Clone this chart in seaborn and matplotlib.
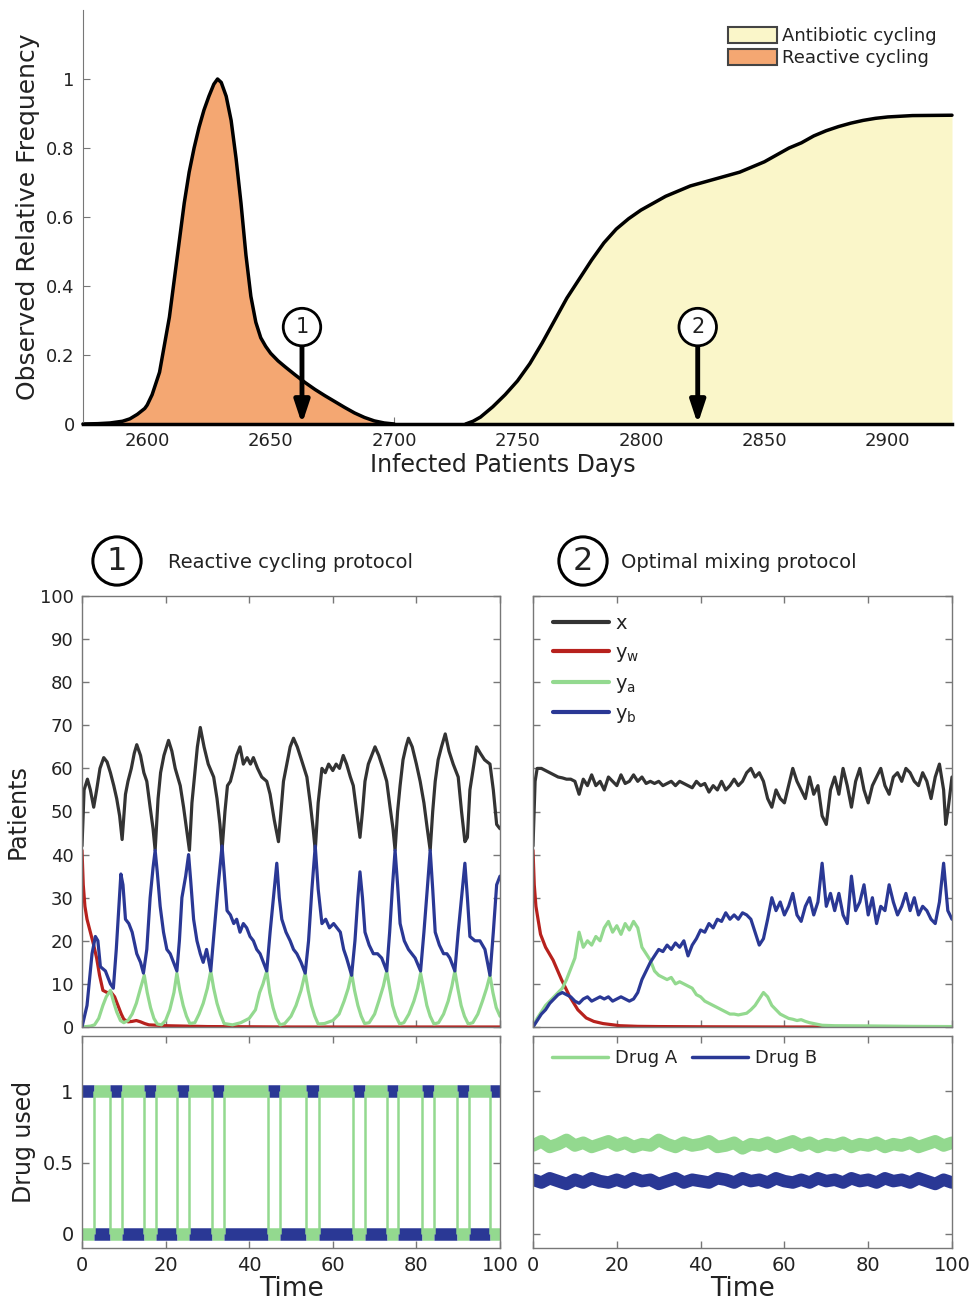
import numpy as np
import pandas as pd
import seaborn as sns
import matplotlib.pyplot as plt
from matplotlib.lines import Line2D
from matplotlib.patches import Patch

# colours
C_X = "#333333"
C_W = "#b7211d"
C_A = "#93d98f"
C_B = "#2a3895"
C_REACT = "#f4a772"
C_ANTI = "#faf6c9"
C_SPINE = "#777777"

# top panel: observed relative frequency (day, value)
reactive_curve = [
    (2574, 0), (2580, 0.001), (2585, 0.003), (2590, 0.008), (2593, 0.015),
    (2596, 0.028), (2599, 0.045), (2600, 0.055), (2602, 0.085), (2605, 0.15),
    (2607, 0.23), (2609, 0.31), (2611, 0.42), (2613, 0.53), (2615, 0.64),
    (2617, 0.73), (2619, 0.8), (2621, 0.86), (2623, 0.91), (2625, 0.95),
    (2627, 0.985), (2628.5, 1.0), (2630, 0.99), (2632, 0.95), (2634, 0.88),
    (2636, 0.77), (2638, 0.64), (2640, 0.49), (2642, 0.37), (2644, 0.295),
    (2646, 0.25), (2648, 0.225), (2650, 0.205), (2653, 0.183), (2656, 0.165),
    (2660, 0.142), (2664, 0.12), (2668, 0.1), (2672, 0.082), (2676, 0.065),
    (2680, 0.048), (2684, 0.032), (2688, 0.019), (2692, 0.009), (2696, 0.003),
    (2700, 0.0),
]
antibiotic_curve = [
    (2729, 0), (2732, 0.008), (2735, 0.02), (2740, 0.05), (2745, 0.085),
    (2750, 0.125), (2755, 0.175), (2760, 0.235), (2765, 0.3), (2770, 0.365),
    (2775, 0.42), (2780, 0.475), (2785, 0.525), (2790, 0.565), (2795, 0.595),
    (2800, 0.62), (2805, 0.64), (2810, 0.66), (2815, 0.675), (2820, 0.69),
    (2825, 0.7), (2830, 0.71), (2835, 0.72), (2840, 0.73), (2845, 0.745),
    (2850, 0.76), (2855, 0.78), (2860, 0.8), (2865, 0.815), (2870, 0.835),
    (2875, 0.85), (2880, 0.862), (2885, 0.872), (2890, 0.88), (2895, 0.886),
    (2900, 0.89), (2910, 0.894), (2926, 0.895),
]
marker_days = [2662.7, 2823]
marker_labels = ["1", "2"]

# reactive cycling protocol (time, patients)
left_x = [
    (0, 42), (0.5, 55), (1.3, 57.5), (2, 55), (2.8, 51), (3.5, 55), (4.3, 60),
    (5.2, 62.5), (6, 61.5), (6.8, 59), (7.6, 56), (8.3, 53), (9, 49), (9.6, 43.5),
    (10.4, 54), (11, 57), (11.8, 60), (12.5, 63.5), (13.1, 65.5), (14, 63),
    (14.8, 59), (15.5, 57), (16.3, 51), (17, 46), (17.5, 41), (18.2, 53),
    (18.8, 59), (19.6, 63), (20.7, 66.5), (21.5, 64), (22.3, 60), (23.5, 56),
    (24.3, 51), (25, 46), (25.7, 41), (26.3, 52), (27, 59), (27.6, 65),
    (28.3, 69.5), (29.2, 65), (30.2, 61), (31.5, 58), (32.3, 53), (33, 47),
    (33.5, 41), (34.2, 50), (34.8, 56), (35.5, 57), (36.3, 60), (37, 63),
    (37.8, 65), (38.6, 61), (39.5, 62.5), (40.3, 61), (41, 62.5), (42, 60),
    (43, 58), (44.2, 57), (45, 54), (46, 48), (47, 43), (47.6, 50), (48.2, 57),
    (49, 61), (49.8, 65), (50.6, 67), (51.5, 65), (52.5, 62), (53.8, 58),
    (54.6, 52), (55.3, 46), (55.8, 41), (56.5, 52), (57.4, 60), (58.2, 59),
    (59, 61), (60, 59.5), (60.8, 61), (61.6, 60), (62.5, 63), (63.3, 61),
    (64.2, 58), (64.9, 56), (65.7, 50), (66.5, 44), (67.1, 50), (67.7, 57),
    (68.5, 61), (69.3, 63), (70.1, 65), (71, 63), (72, 60), (72.9, 57),
    (73.7, 51), (74.4, 46), (74.9, 41), (75.5, 50), (76.1, 56), (76.8, 62),
    (77.5, 65), (78.1, 67), (79, 65), (80, 61), (80.9, 57), (81.8, 52),
    (82.6, 46), (83.3, 41), (83.9, 50), (84.5, 57), (85.2, 62), (86, 65),
    (86.9, 68), (87.8, 64), (88.8, 61), (90, 58), (90.8, 50), (91.6, 43),
    (92.2, 44), (92.8, 55), (93.6, 60), (94.4, 65), (95.3, 63.5), (96.3, 62),
    (97.6, 61), (98.4, 55), (99.2, 47), (100, 46),
]
left_yw = [
    (0, 41), (0.3, 33), (0.7, 28), (1.2, 25), (2, 22), (2.8, 19), (3.5, 16),
    (4.2, 12), (5, 8.5), (6, 8), (7, 8), (7.8, 7), (8.6, 5), (9.4, 3), (10, 1.8),
    (11, 1.2), (12, 1.3), (13, 1.5), (14, 1.2), (15, 0.8), (16, 0.5), (18, 0.4),
    (20, 0.3), (25, 0.2), (30, 0.1), (40, 0.05), (50, 0), (100, 0),
]
left_ya = [
    (0, 0), (2, 0.2), (3, 0.5), (4, 2), (5, 5), (5.8, 7), (6.8, 8.5), (7.5, 6),
    (8.3, 3.5), (9.2, 1.5), (10, 1), (11, 1.5), (12, 3), (13, 5.5), (14, 9),
    (14.9, 12), (15.6, 8), (16.4, 4.5), (17.2, 2), (18, 0.7), (19, 0.5),
    (20, 1.5), (21, 4), (22, 8), (22.7, 12.5), (23.4, 8.5), (24.2, 5),
    (25, 2.5), (25.8, 0.8), (27, 1), (28, 3), (29, 5.5), (30, 9), (30.8, 13),
    (31.5, 9), (32.3, 5.5), (33.1, 3), (34, 0.8), (36, 0.5), (38, 1), (40, 2),
    (41.5, 4), (42.5, 8), (43.3, 10), (44.2, 13), (44.9, 8), (45.7, 4.5),
    (46.5, 2), (47.4, 0.5), (48.5, 0.8), (50, 2.5), (51.2, 5), (52.4, 8.5),
    (53.4, 12.5), (54.1, 8.5), (54.9, 5), (55.7, 2.5), (56.5, 0.7), (58, 0.8),
    (60, 1.5), (61.5, 3), (62.7, 6), (63.7, 9), (64.5, 12.5), (65.2, 8.5),
    (66, 5), (66.8, 2.5), (67.6, 0.8), (68.7, 1), (70, 3), (71, 6),
    (72.1, 9.5), (72.9, 13), (73.6, 9), (74.3, 5), (75.1, 2.5), (76, 0.7),
    (77, 1), (78.2, 3), (79.4, 6), (80.3, 9), (81, 12.5), (81.7, 9),
    (82.5, 5), (83.3, 2.5), (84.2, 0.7), (85.3, 1), (86.5, 3), (87.6, 6),
    (88.5, 9.5), (89.2, 13), (89.9, 9), (90.7, 5), (91.5, 2.5), (92.4, 0.7),
    (93.5, 1), (94.7, 3), (95.8, 6), (96.8, 9), (97.6, 12), (98.3, 8),
    (99.1, 4.5), (100, 2.5),
]
left_yb = [
    (0, 0), (1.2, 5), (2.4, 17), (3.2, 21), (3.8, 20), (4.4, 14), (5.6, 13),
    (6.8, 10), (7.5, 9), (8.2, 18), (9.3, 35.5), (9.8, 33), (10.4, 25),
    (11.2, 24), (12, 22), (13.1, 17), (14, 15), (14.7, 12.5), (15.5, 18),
    (16.3, 30), (17, 37), (17.5, 41), (18, 36), (18.7, 28), (19.5, 22),
    (20.3, 18), (21.1, 17), (21.9, 15), (22.7, 13), (23.3, 20), (23.9, 30),
    (24.8, 35), (25.5, 40), (26, 34), (26.7, 25), (27.5, 20), (28.3, 17),
    (29, 15), (29.8, 18), (30.8, 13), (31.6, 22), (32.5, 32), (33.5, 42),
    (34, 36), (34.7, 27), (35.5, 26), (36.3, 24), (37, 25), (37.8, 22),
    (38.6, 24), (39.4, 23), (40.2, 21), (41, 20), (41.8, 18), (42.6, 17),
    (43.4, 15), (44.2, 13), (45, 22), (45.8, 30), (46.6, 38), (47.2, 30),
    (47.8, 25), (48.8, 22), (49.8, 20), (50.6, 18), (51.4, 17), (52.4, 15),
    (53.4, 12.5), (54.2, 20), (55, 32), (55.8, 42), (56.5, 32), (57.4, 24),
    (58.3, 25), (59.2, 23), (60.2, 24), (61, 23), (61.8, 22), (62.6, 18),
    (63.3, 16), (64.5, 12), (65.3, 20), (66, 30), (66.5, 36), (67.1, 30),
    (67.7, 22), (68.7, 19), (69.7, 17), (70.7, 17), (71.7, 16), (72.9, 13),
    (73.6, 22), (74.3, 33), (74.9, 41), (75.5, 33), (76.1, 24), (77.1, 20),
    (78.1, 18), (78.9, 17), (79.7, 16), (81, 13), (81.8, 22), (82.6, 32),
    (83.3, 41), (83.9, 32), (84.5, 22), (85.5, 19), (86.5, 17), (87.3, 17),
    (88, 16), (89.2, 13), (90, 22), (90.8, 30), (91.6, 38), (92.2, 30),
    (92.8, 21), (94, 20), (95.2, 20), (95.8, 19), (96.4, 18), (97.6, 12),
    (98.4, 22), (99.2, 33), (100, 35),
]
# reactive cycling: switch times and drug B level in each interval
switch_left = [0, 2.8, 6.8, 9.6, 14.9, 17.7, 22.7, 25.7, 31.2, 34, 44.6, 47.4,
               53.6, 56.6, 64.8, 67.6, 72.9, 75.7, 81.4, 84.2, 89.8, 92.7, 97.5, 100]
drug_b_left = [1, 0, 1, 0, 1, 0, 1, 0, 1, 0, 1, 0, 1, 0, 1, 0, 1, 0, 1, 0, 1, 0, 1]

# optimal mixing protocol (time, patients)
right_x = [
    (0, 42), (0.5, 57), (1, 60), (2, 60), (3, 59.5), (4, 59), (5, 58.5), (6, 58),
    (7, 57.8), (8, 57.5), (9, 57.5), (10, 57), (11, 54), (12, 57.5), (13, 56),
    (14, 58.5), (15, 56), (16, 57), (17, 55), (18, 58), (19, 57), (20, 56),
    (21, 58.5), (22, 56.5), (23, 57), (24, 58.5), (25, 57), (26, 58), (27, 56.5),
    (28, 57), (29, 56.5), (30, 57), (31, 56), (32, 56.5), (33, 57), (34, 56),
    (35, 57), (36, 56.5), (37, 56), (38, 55.5), (39, 57), (40, 56), (41, 56.5),
    (42, 54.5), (43, 56), (44, 55), (45, 57), (46, 55), (47, 56), (48, 57.5),
    (49, 56), (50, 57), (51, 59), (52, 60), (53, 58), (54, 59), (55, 57),
    (56, 53), (57, 51), (58, 55), (59, 53), (60, 52), (61, 56), (62, 60),
    (63, 57), (64, 55), (65, 53), (66, 58), (67, 54), (68, 56), (69, 49),
    (70, 47), (71, 55), (72, 58), (73, 54), (74, 60), (75, 56), (76, 51),
    (77, 57), (78, 60), (79, 55), (80, 52), (81, 56), (82, 58), (83, 60),
    (84, 56), (85, 54), (86, 58), (87, 59), (88, 57), (89, 60), (90, 59),
    (91, 57), (92, 56), (93, 59), (94, 57), (95, 53), (96, 58), (97, 61),
    (98, 55), (98.5, 47), (99, 50), (100, 58),
]
right_yw = [
    (0, 41), (0.3, 33), (0.7, 28), (1.2, 25), (1.8, 21.5), (3, 18.5),
    (4.8, 15.5), (6.8, 11), (8.8, 7), (10.7, 4), (12.7, 2.1), (14.5, 1.3),
    (16.7, 0.8), (20.7, 0.3), (25, 0.15), (30, 0.1), (40, 0.05), (60, 0),
    (100, 0),
]
right_ya = [
    (0, 0), (1, 2), (2, 3.5), (3, 5), (4, 6), (5, 7), (6, 8), (7, 9), (8, 11),
    (9, 13.5), (10, 16), (11, 22), (12, 18.5), (13, 20), (14, 19), (15, 21),
    (16, 20), (17, 23), (18, 24.5), (19, 22), (20, 23.5), (21, 21.5), (22, 24),
    (23, 22.5), (24, 24.5), (25, 23), (26, 18.5), (27, 17), (28, 15.5),
    (29, 13), (30, 12), (31, 11.5), (32, 11), (33, 11.5), (34, 10), (35, 10.5),
    (36, 10), (37, 9.5), (38, 9), (39, 7.5), (40, 7), (41, 6), (42, 5.5),
    (43, 5), (44, 4.5), (45, 4), (46, 3.5), (47, 3), (48, 3), (49, 2.8),
    (50, 3), (51, 3.2), (52, 4), (53, 5), (54, 6.5), (55, 8), (56, 7), (57, 5),
    (58, 4), (59, 3), (60, 2.5), (61, 2), (62, 1.8), (63, 1.5), (64, 1.7),
    (65, 1.3), (66, 1), (67, 0.8), (68, 0.6), (69, 0.4), (72, 0.3), (80, 0.25),
    (90, 0.15), (100, 0.1),
]
right_yb = [
    (0, 0), (1, 1.5), (2, 3), (3, 4), (4, 5.5), (5, 6.5), (6, 7.5), (7, 8),
    (8, 7.5), (9, 7), (10, 6), (11, 5.5), (12, 6.5), (13, 7), (14, 6),
    (15, 6.5), (16, 7), (17, 6.5), (18, 7), (19, 6), (20, 6.5), (21, 7),
    (22, 6.5), (23, 6), (24, 6.5), (25, 8), (26, 11), (27, 13), (28, 15),
    (29, 16.5), (30, 18), (31, 17.5), (32, 19), (33, 18), (34, 19.5),
    (35, 18.5), (36, 20), (37, 16.5), (38, 19), (39, 20.5), (40, 22.5),
    (41, 22), (42, 24), (43, 23), (44, 25), (45, 24.5), (46, 26.5), (47, 25),
    (48, 26), (49, 25), (50, 26.5), (51, 26), (52, 25), (53, 22), (54, 19),
    (55, 20.5), (56, 25), (57, 30), (58, 27), (59, 29), (60, 26), (61, 28),
    (62, 31), (63, 26), (64, 24.5), (65, 28), (66, 30), (67, 26), (68, 29),
    (69, 38), (70, 28), (71, 31), (72, 27), (73, 31), (74, 26), (75, 24),
    (76, 35), (77, 27), (78, 29), (79, 33), (80, 26), (81, 30), (82, 24),
    (83, 28), (84, 27), (85, 33), (86, 29), (87, 26), (88, 28), (89, 31),
    (90, 27), (91, 30), (92, 26), (93, 28), (94, 27), (95, 25), (96, 24),
    (97, 29), (98, 38), (99, 27), (100, 25),
]
# optimal mixing: drug usage sampled every 2 time units
drug_time_right = list(range(0, 101, 2))
drug_a_right = [
    0.62, 0.65, 0.61, 0.63, 0.66, 0.62, 0.64, 0.61, 0.63, 0.65,
    0.62, 0.64, 0.61, 0.63, 0.62, 0.66, 0.63, 0.61, 0.64, 0.62,
    0.63, 0.65, 0.61, 0.62, 0.64, 0.60, 0.63, 0.62, 0.64, 0.61,
    0.63, 0.65, 0.62, 0.64, 0.61, 0.63, 0.62, 0.64, 0.61, 0.63,
    0.62, 0.64, 0.61, 0.63, 0.62, 0.64, 0.61, 0.63, 0.65, 0.62, 0.64,
]
drug_b_right = [
    0.38, 0.36, 0.39, 0.37, 0.35, 0.38, 0.36, 0.39, 0.37, 0.36,
    0.38, 0.36, 0.39, 0.37, 0.38, 0.35, 0.37, 0.39, 0.36, 0.38,
    0.37, 0.36, 0.39, 0.38, 0.36, 0.39, 0.37, 0.38, 0.36, 0.39,
    0.37, 0.36, 0.38, 0.36, 0.39, 0.37, 0.38, 0.36, 0.39, 0.37,
    0.38, 0.36, 0.39, 0.37, 0.38, 0.36, 0.39, 0.37, 0.35, 0.38, 0.36,
]

time_ticks = [0, 20, 40, 60, 80, 100]


def to_frame(pairs):
    return pd.DataFrame(pairs, columns=["t", "v"])


def draw_line(ax, pairs, color, lw=2.3, **kw):
    sns.lineplot(data=to_frame(pairs), x="t", y="v", ax=ax, color=color, lw=lw,
                 estimator=None, sort=False, legend=False, **kw)
    ax.set_xlabel("")
    ax.set_ylabel("")


def style_box(ax):
    for s in ax.spines.values():
        s.set_color(C_SPINE)
        s.set_linewidth(1.0)
        s.set_visible(True)
    ax.tick_params(direction="in", top=True, right=True, length=5, width=1,
                   color=C_SPINE, labelsize=13, pad=6)


def plot_top(ax):
    for pairs, fc in [(reactive_curve, C_REACT), (antibiotic_curve, C_ANTI)]:
        df = to_frame(pairs)
        ax.fill_between(df["t"], 0, df["v"], color=fc, lw=0)
        draw_line(ax, pairs, "black", lw=2.5, clip_on=False)
    ax.set_xlim(2574, 2926)
    ax.set_ylim(0, 1.2)
    ax.set_xticks([2600, 2650, 2700, 2750, 2800, 2850, 2900])
    ax.set_yticks([0, 0.2, 0.4, 0.6, 0.8, 1])
    ax.set_yticklabels(["0", "0.2", "0.4", "0.6", "0.8", "1"])
    ax.spines["top"].set_visible(False)
    ax.spines["right"].set_visible(False)
    ax.spines["left"].set_color(C_SPINE)
    ax.spines["bottom"].set_color("black")
    ax.spines["bottom"].set_linewidth(2.5)
    ax.tick_params(direction="in", length=5, color=C_SPINE, labelsize=13, pad=6)
    ax.set_xlabel("Infected Patients Days", fontsize=17)
    ax.xaxis.set_label_coords(0.483, -0.07)
    ax.set_ylabel("Observed Relative Frequency", fontsize=18)
    ax.yaxis.set_label_coords(-0.05, 0.5)
    for day, lab in zip(marker_days, marker_labels):
        ax.annotate(lab, xy=(day, 0), xytext=(day, 0.281), fontsize=15,
                    ha="center", va="center",
                    bbox=dict(boxstyle="circle,pad=0.42", fc="white", ec="black", lw=2),
                    arrowprops=dict(arrowstyle="-|>,head_length=0.9,head_width=0.3",
                                    color="black", lw=3.5, shrinkA=0, shrinkB=0),
                    annotation_clip=False)
    handles = [Patch(facecolor=C_ANTI, edgecolor="#444444", lw=1.5, label="Antibiotic cycling"),
               Patch(facecolor=C_REACT, edgecolor="#444444", lw=1.5, label="Reactive cycling")]
    ax.legend(handles=handles, loc="upper right", bbox_to_anchor=(0.995, 0.985),
              frameon=False, fontsize=13, handlelength=2.7, handleheight=1.0,
              handletextpad=0.3, labelspacing=0.2, borderaxespad=0.2)


def plot_patients(ax, x, yw, ya, yb, left):
    draw_line(ax, x, C_X)
    draw_line(ax, yw, C_W)
    draw_line(ax, ya, C_A)
    draw_line(ax, yb, C_B)
    ax.set_xlim(0, 100)
    ax.set_ylim(0, 100)
    ax.set_yticks(range(0, 101, 10))
    ax.set_xticks(time_ticks)
    style_box(ax)
    ax.tick_params(labelbottom=False, labelleft=left)
    if left:
        ax.set_ylabel("Patients", fontsize=17)
        ax.yaxis.set_label_coords(-0.125, 0.5)


def plot_drug_left(ax):
    for i, lvl in enumerate(drug_b_left):
        t0, t1 = switch_left[i], switch_left[i + 1]
        ax.hlines(lvl, t0, t1, color=C_B, lw=9, capstyle="butt")
        ax.hlines(1 - lvl, t0, t1, color=C_A, lw=9, capstyle="butt")
    ax.vlines(switch_left[1:-1], 0, 1, color=C_A, lw=1.8)


def finish_drug(ax, left):
    ax.set_xlim(0, 100)
    ax.set_ylim(-0.1, 1.39)
    ax.set_yticks([0, 0.5, 1])
    ax.set_yticklabels(["0", "0.5", "1"])
    ax.set_xticks(time_ticks)
    style_box(ax)
    ax.tick_params(labelleft=left, labelsize=14)
    ax.set_xlabel("Time", fontsize=19)
    ax.xaxis.set_label_coords(0.5, -0.13)
    if left:
        ax.set_ylabel("Drug used", fontsize=17)
        ax.yaxis.set_label_coords(-0.11, 0.5)


def main():
    sns.set_style("ticks")
    plt.rcParams["font.family"] = ["DejaVu Sans"]
    plt.rcParams["text.color"] = "#222222"
    plt.rcParams["axes.labelcolor"] = "#222222"
    plt.rcParams["xtick.labelcolor"] = "#222222"
    plt.rcParams["ytick.labelcolor"] = "#222222"

    W, H = 971, 1305
    fig = plt.figure(figsize=(W / 100, H / 100), dpi=100)

    def box(x0, y0, x1, y1):
        return [x0 / W, 1 - y1 / H, (x1 - x0) / W, (y1 - y0) / H]

    ax_top = fig.add_axes(box(83, 10, 952, 424))
    ax_lp = fig.add_axes(box(82, 596, 500, 1027))
    ax_ld = fig.add_axes(box(82, 1036, 500, 1248))
    ax_rp = fig.add_axes(box(533, 596, 952, 1027))
    ax_rd = fig.add_axes(box(533, 1036, 952, 1248))

    plot_top(ax_top)

    plot_patients(ax_lp, left_x, left_yw, left_ya, left_yb, True)
    plot_patients(ax_rp, right_x, right_yw, right_ya, right_yb, False)
    handles = [Line2D([], [], color=C_X, lw=3, label="x"),
               Line2D([], [], color=C_W, lw=3, label="y$_\\mathregular{w}$"),
               Line2D([], [], color=C_A, lw=3, label="y$_\\mathregular{a}$"),
               Line2D([], [], color=C_B, lw=3, label="y$_\\mathregular{b}$")]
    ax_rp.legend(handles=handles, loc="upper left", bbox_to_anchor=(0.02, 0.985),
                 frameon=False, fontsize=14, handlelength=2.9, handletextpad=0.3,
                 labelspacing=0.5, borderaxespad=0.2)

    plot_drug_left(ax_ld)
    finish_drug(ax_ld, True)

    draw_line(ax_rd, list(zip(drug_time_right, drug_b_right)), C_B, lw=9)
    draw_line(ax_rd, list(zip(drug_time_right, drug_a_right)), C_A, lw=9)
    finish_drug(ax_rd, False)
    drug_handles = [Line2D([], [], color=C_A, lw=2.5, label="Drug A"),
                    Line2D([], [], color=C_B, lw=2.5, label="Drug B")]
    ax_rd.legend(handles=drug_handles, loc="upper left", bbox_to_anchor=(0.02, 0.99),
                 ncol=2, frameon=False, fontsize=13, handlelength=3.1,
                 handletextpad=0.4, columnspacing=0.8, borderaxespad=0.2)

    # panel headers with circled numbers
    for cx, tx, num, title in [(117, 168, "1", "Reactive cycling protocol"),
                               (583, 621, "2", "Optimal mixing protocol")]:
        fig.text(cx / W, 1 - 561 / H, num, fontsize=23, ha="center", va="center",
                 bbox=dict(boxstyle="circle,pad=0.27", fc="white", ec="black", lw=2.2))
        fig.text(tx / W, 1 - 563 / H, title, fontsize=14, ha="left", va="center")

    fig.savefig("out.png", dpi=100)
    plt.close(fig)


if __name__ == "__main__":
    main()
